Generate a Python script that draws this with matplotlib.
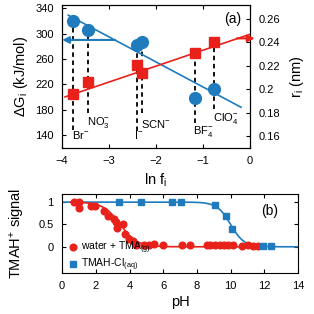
import numpy as np
import matplotlib
matplotlib.use('Agg')
import matplotlib.pyplot as plt

plt.rcParams['font.family'] = ['Liberation Sans', 'DejaVu Sans']
plt.rcParams['mathtext.default'] = 'regular'

BLUE = '#1f7bbd'
RED = '#e8221b'

# panel (a) data
ions = ['Br$^{-}$', 'NO$_3^{-}$', 'I$^{-}$', 'SCN$^{-}$', 'BF$_4^{-}$', 'ClO$_4^{-}$']
ln_f = [-3.76, -3.44, -2.40, -2.29, -1.18, -0.76]
dG = [320, 306, 282, 287, 199, 213]          # kJ/mol
r_i = [0.196, 0.206, 0.221, 0.214, 0.231, 0.240]  # nm
label_pos = [(-3.79, 140), (-3.47, 160), (-2.47, 140), (-2.33, 158), (-1.22, 146), (-0.79, 166)]
dash_end = [148, 175, 147, 175, 159, 182]
dG_fit_x = [-3.87, -0.19]
dG_fit_y = [329, 184]
r_fit_x = [-3.94, 0.0]
r_fit_y = [0.1935, 0.247]

# panel (b) data
ph_water = [0.71, 0.97, 0.97, 1.72, 1.92, 2.46, 2.72, 3.09, 3.21, 3.25, 3.61, 3.74, 3.94, 4.20,
            4.38, 4.83, 5.13, 5.43, 6.00, 7.09, 7.59, 8.58, 8.78, 9.07, 9.37, 9.61, 9.87, 10.16,
            10.66, 11.05, 11.35, 11.60]
sig_water = [1.01, 1.01, 0.87, 0.91, 0.91, 0.80, 0.69, 0.63, 0.55, 0.43, 0.50, 0.29, 0.18, 0.12,
             0.05, 0.04, 0.04, 0.06, 0.03, 0.04, 0.03, 0.03, 0.04, 0.04, 0.05, 0.03, 0.04, 0.03,
             0.02, 0.03, 0.02, 0.02]
ph_cl = [3.35, 4.70, 6.54, 7.03, 9.07, 9.71, 10.06, 11.90, 12.40]
sig_cl = [1.0, 1.0, 1.0, 1.0, 0.93, 0.69, 0.39, 0.01, 0.01]
water_center, water_width = 3.45, 0.5
cl_center, cl_width = 10.0, 0.4

fig = plt.figure(figsize=(3.14, 3.14), dpi=100)

# ---- panel (a)
ax = fig.add_axes([0.198, 0.529, 0.598, 0.455])
ax2 = ax.twinx()
g_lim = (120, 345)
r_lim = (0.15, 0.272)
ax.set_xlim(-4, 0)
ax.set_ylim(*g_lim)
ax2.set_ylim(*r_lim)

ax.plot(dG_fit_x, dG_fit_y, color=BLUE, lw=1.2, zorder=2)
ax.plot(ln_f, dG, 'o', color=BLUE, ms=8.5, zorder=4)
ax2.plot(r_fit_x, r_fit_y, color=RED, lw=1.2, zorder=2)
ax2.plot(ln_f, r_i, 's', color=RED, ms=7.5, zorder=4)

def r_to_g(r):
    return g_lim[0] + (r - r_lim[0]) * (g_lim[1] - g_lim[0]) / (r_lim[1] - r_lim[0])

for x, g, r, end, lab, (lx, ly) in zip(ln_f, dG, r_i, dash_end, ions, label_pos):
    top = max(g, r_to_g(r))
    ax.plot([x, x], [end, top], color='black', ls=(0, (2.5, 2)), lw=1.3, zorder=1)
    ax.text(lx, ly, lab, fontsize=8, ha='left', va='center')

ax.annotate('', xy=(-4.0, 290), xytext=(-2.87, 290),
            arrowprops=dict(arrowstyle='-|>', color=BLUE, lw=1.5, mutation_scale=10,
                            shrinkA=0, shrinkB=0), annotation_clip=False)
ax2.annotate('', xy=(0.1, 0.2435), xytext=(-0.28, 0.2435),
             arrowprops=dict(arrowstyle='-|>', color=RED, lw=1.5, mutation_scale=10,
                             shrinkA=0, shrinkB=0), annotation_clip=False)

ax.set_xticks([-4, -3, -2, -1, 0])
ax.set_yticks([140, 180, 220, 260, 300, 340])
ax2.set_yticks([0.16, 0.18, 0.20, 0.22, 0.24, 0.26])
ax2.set_yticklabels(['0.16', '0.18', '0.2', '0.22', '0.24', '0.26'])
ax.tick_params(direction='in', top=True, labelsize=8, length=3, pad=6)
ax.tick_params(axis='y', right=False)
ax2.tick_params(direction='in', labelsize=8, length=3, pad=6)
ax.set_xlabel('ln f$_{i}$', fontsize=10.5, labelpad=4)
ax.set_ylabel('ΔG$_{i}$ (kJ/mol)', fontsize=10.5, labelpad=4)
ax2.set_ylabel('r$_{i}$ (nm)', fontsize=10.5, labelpad=6)
ax.text(0.91, 0.9, '(a)', transform=ax.transAxes, fontsize=10, ha='center', va='center')

# ---- panel (b)
bx = fig.add_axes([0.198, 0.1315, 0.751, 0.2505])
bx.set_xlim(0, 14)
bx.set_ylim(-0.58, 1.18)
xs = np.linspace(0, 14, 300)
xw = np.linspace(0.5, 12, 300)
bx.plot(xs, 1 / (1 + np.exp((xs - cl_center) / cl_width)), color=BLUE, lw=1.2, zorder=2)
bx.plot(xw, 1 / (1 + np.exp((xw - water_center) / water_width)), color=RED, lw=1.2, zorder=2)
bx.plot(ph_water, sig_water, 'o', color=RED, ms=4.8, zorder=3, label='water + TMA$_{(g)}$')
bx.plot(ph_cl, sig_cl, 's', color=BLUE, ms=4.4, zorder=4, label='TMAH-Cl$_{(aq)}$')
bx.legend(loc='lower left', bbox_to_anchor=(0.0, -0.06), frameon=False, fontsize=7.5,
          handletextpad=0.2, borderaxespad=0.2, labelspacing=0.05, handlelength=1.2,
          borderpad=0.2)
bx.set_xticks(range(0, 15, 2))
bx.set_yticks([0, 0.5, 1])
bx.set_yticklabels(['0', '0.5', '1'])
bx.tick_params(direction='in', top=True, right=True, labelsize=8, length=3, pad=6)
bx.set_xlabel('pH', fontsize=10.5, labelpad=3)
bx.set_ylabel('TMAH$^{+}$ signal', fontsize=10.5, labelpad=8)
bx.text(0.88, 0.78, '(b)', transform=bx.transAxes, fontsize=10, ha='center', va='center')

fig.savefig('out.png', dpi=100)
